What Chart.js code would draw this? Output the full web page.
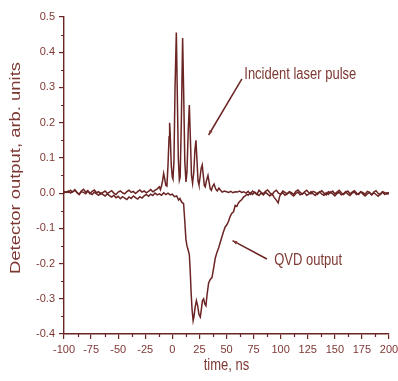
<!DOCTYPE html>
<html>
<head>
<meta charset="utf-8">
<script src="https://cdn.jsdelivr.net/npm/chart.js@4"></script>
<style>
  html, body { margin: 0; padding: 0; background: #fff; }
  #wrap { width: 398px; height: 381px; position: relative; }
</style>
</head>
<body>
<div id="wrap"><canvas id="canvas"></canvas></div>
<script>
const lineColor = '#6b2424';
const textColor = '#7d3833';
const font = 'Liberation Sans, Arial, sans-serif';

// incident laser pulse (time in ns, detector output in arb. units)
const laserTime = [
  -100, -98, -96, -94, -92, -90, -88, -86, -84, -82, -80, -78, -76, -74, -72, -70,
  -68, -66, -64, -62, -60, -58, -56, -54, -52, -50, -48, -46, -44, -42, -40, -38,
  -36, -34, -32, -30, -28, -26, -24, -22, -20, -18, -16, -14, -12, -11, -10, -9,
  -8, -7, -6, -5, -4, -3, -2.5, -2, -1, 0, 0.6, 1.5, 2.5, 3.7, 4.5, 5.5,
  6.5, 7.2, 8.3, 9.5, 10.5, 11.5, 12.6, 13.5, 14.7, 15.7, 16.7, 17.7, 18.7, 19.8, 20.8, 21.8,
  22.8, 23.7, 24.6, 25.6, 26.6, 27.6, 28.6, 29.5, 30.4, 31.5, 32.9, 34, 35, 36, 37, 38.5,
  40, 41.5, 43, 44.5, 46, 48, 50, 52, 54, 56, 58, 60, 62, 64, 66, 68,
  70, 72, 74, 76, 78, 80, 82, 84, 86, 88, 90, 92, 94, 96, 98, 100,
  102, 104, 106, 108, 110, 112, 114, 116, 118, 120, 122, 124, 126, 128, 130, 132,
  134, 136, 138, 140, 142, 144, 146, 148, 150, 152, 154, 156, 158, 160, 162, 164,
  166, 168, 170, 172, 174, 176, 178, 180, 182, 184, 186, 188, 190, 192, 194, 196,
  198, 200
];
const laserValue = [
  0.000, 0.004, 0.002, 0.008, 0.003, 0.010, 0.002, -0.004, 0.006, 0.011, 0.003, 0.007, -0.002, 0.005, 0.009, 0.001,
  0.004, -0.003, 0.002, 0.006, -0.001, 0.003, 0.007, 0.000, -0.004, 0.003, 0.006, 0.001, -0.002, 0.004, 0.008, 0.002,
  0.005, -0.001, 0.004, 0.009, 0.003, 0.006, 0.001, 0.005, 0.010, 0.004, 0.008, 0.012, 0.018, 0.010, 0.020, 0.035,
  0.056, 0.040, 0.022, 0.020, 0.080, 0.160, 0.200, 0.170, 0.080, 0.045, 0.040, 0.090, 0.300, 0.456, 0.300, 0.100,
  0.037, 0.045, 0.200, 0.440, 0.280, 0.090, 0.032, 0.060, 0.180, 0.250, 0.150, 0.050, 0.028, 0.060, 0.120, 0.150,
  0.090, 0.035, 0.023, 0.045, 0.070, 0.080, 0.050, 0.022, 0.018, 0.035, 0.050, 0.030, 0.012, 0.008, 0.018, 0.026,
  0.012, 0.006, 0.014, 0.008, 0.003, 0.006, 0.004, 0.002, 0.005, 0.001, 0.004, 0.003, 0.006, 0.002, 0.004, 0.000,
  0.005, -0.003, 0.006, 0.001, -0.004, 0.008, 0.002, -0.002, 0.005, 0.009, 0.001, -0.005, 0.004, 0.008, 0.000, -0.003,
  0.006, 0.002, -0.002, 0.004, 0.001, -0.004, 0.005, 0.009, 0.002, -0.003, 0.004, 0.008, 0.001, -0.002, 0.005, 0.002,
  -0.004, 0.003, 0.007, 0.000, -0.005, 0.004, 0.001, 0.006, -0.002, 0.003, 0.008, 0.001, -0.004, 0.002, 0.006, -0.002,
  0.003, 0.007, 0.000, -0.004, 0.004, 0.001, -0.003, 0.005, 0.002, -0.005, 0.003, 0.007, -0.001, -0.004, 0.004, 0.001,
  -0.003, 0.002
];

// QVD output
const qvdTime = [
  -100, -98, -96, -94, -92, -90, -88, -86, -84, -82, -80, -78, -76, -74, -72, -70,
  -68, -66, -64, -62, -60, -58, -56, -54, -52, -50, -48, -46, -44, -42, -40, -38,
  -36, -34, -32, -30, -28, -26, -24, -22, -20, -18, -16, -14, -12, -10, -8, -6,
  -4, -2, 0, 2, 4, 5.8, 7, 8.5, 10.4, 11.5, 12.5, 13.5, 14.5, 15.7, 16.5, 17.3,
  18.2, 19.2, 20, 21, 22.2, 23.4, 24.6, 25.8, 26.8, 27.8, 28.9, 30, 31, 32, 33.5, 35,
  36.6, 38, 39.6, 41, 42.7, 44.2, 45.8, 47.2, 48.8, 50.3, 51.9, 53.5, 55, 56.5, 58, 59.5,
  61, 62.7, 64.2, 65.7, 67.3, 68.8, 70, 72, 74, 76, 78, 80, 82, 84, 86, 88,
  90, 92, 94, 96, 97.7, 99, 100, 102, 104, 106, 108, 110, 112, 114, 116, 118,
  120, 122, 124, 126, 128, 130, 132, 134, 136, 138, 140, 142, 144, 146, 148, 150,
  152, 154, 156, 158, 160, 162, 164, 166, 168, 170, 172, 174, 176, 178, 180, 182,
  184, 186, 188, 190, 192, 194, 196, 198, 200
];
const qvdValue = [
  0.005, 0.002, 0.006, 0.000, 0.004, 0.008, 0.001, -0.003, 0.004, 0.002, -0.002, 0.005, 0.000, -0.004, 0.003, -0.002,
  -0.006, 0.001, -0.004, -0.008, -0.002, -0.007, -0.011, -0.006, -0.013, -0.009, -0.016, -0.010, -0.014, -0.018, -0.011, -0.015,
  -0.008, -0.013, -0.017, -0.010, -0.014, -0.008, -0.004, -0.009, -0.003, -0.007, 0.000, -0.005, -0.002, -0.006, 0.001, -0.004,
  0.000, -0.005, -0.003, -0.010, -0.008, -0.020, -0.015, -0.025, -0.030, -0.080, -0.130, -0.150, -0.160, -0.175, -0.220, -0.280,
  -0.330, -0.362, -0.350, -0.325, -0.305, -0.320, -0.345, -0.352, -0.330, -0.305, -0.300, -0.315, -0.320, -0.290, -0.255, -0.245,
  -0.240, -0.215, -0.185, -0.170, -0.156, -0.140, -0.124, -0.110, -0.096, -0.090, -0.080, -0.065, -0.057, -0.053, -0.035, -0.038,
  -0.028, -0.022, -0.018, -0.011, -0.008, -0.003, -0.006, 0.001, -0.004, 0.003, -0.002, -0.007, 0.000, -0.005, 0.002, -0.003,
  -0.008, -0.002, -0.012, -0.020, -0.028, -0.010, -0.004, 0.001, -0.006, -0.002, 0.003, -0.004, -0.008, -0.001, 0.003, -0.005,
  -0.002, 0.002, -0.006, -0.003, 0.004, -0.002, -0.007, 0.000, 0.004, -0.003, -0.006, 0.001, -0.004, 0.003, -0.002, -0.008,
  -0.001, 0.002, -0.005, -0.002, 0.004, -0.003, -0.007, 0.000, 0.003, -0.004, -0.001, 0.004, -0.003, -0.008, -0.002, 0.002,
  -0.005, 0.001, -0.004, -0.009, -0.002, 0.003, -0.004, 0.001, -0.003
];

const xTicks = [-100, 200, 25];
const yTicks = [-0.4, 0.5, 0.1];

// labels with arrows, in data coordinates
const notes = [
  { text: 'Incident laser pulse', at: [66.4, 0.335], from: [64.2, 0.324], to: [33.5, 0.165] },
  { text: 'QVD output', at: [94, -0.193], from: [87.3, -0.187], to: [55.6, -0.135] }
];

function toPoints(xs, ys) {
  return xs.map((x, i) => ({ x: x, y: ys[i] }));
}

// text drawn a little taller than wide, as in the scanned figure
function tallText(c, text, x, y, sy) {
  c.save();
  c.translate(x, y);
  c.scale(1, sy);
  c.fillText(text, 0, 0);
  c.restore();
}

const extras = {
  id: 'extras',
  afterDraw(chart) {
    const c = chart.ctx;
    const xs = chart.scales.x, ys = chart.scales.y;
    const area = chart.chartArea;
    c.save();
    c.strokeStyle = lineColor;
    c.lineWidth = 1.2;
    // minor ticks
    c.beginPath();
    for (let v = xTicks[0] + xTicks[2] / 2; v < xTicks[1]; v += xTicks[2]) {
      const px = Math.round(xs.getPixelForValue(v)) + 0.5;
      c.moveTo(px, area.bottom);
      c.lineTo(px, area.bottom + 3);
    }
    for (let v = yTicks[0] + yTicks[2] / 2; v < yTicks[1]; v += yTicks[2]) {
      const py = Math.round(ys.getPixelForValue(v)) + 0.5;
      c.moveTo(area.left, py);
      c.lineTo(area.left - 3, py);
    }
    c.stroke();

    // notes
    c.fillStyle = textColor;
    c.font = '13px ' + font;
    c.textBaseline = 'middle';
    c.textAlign = 'left';
    notes.forEach(n => {
      tallText(c, n.text, xs.getPixelForValue(n.at[0]), ys.getPixelForValue(n.at[1]), 1.2);
      const x1 = xs.getPixelForValue(n.from[0]), y1 = ys.getPixelForValue(n.from[1]);
      const x2 = xs.getPixelForValue(n.to[0]), y2 = ys.getPixelForValue(n.to[1]);
      c.lineWidth = 1.5;
      c.beginPath();
      c.moveTo(x1, y1);
      c.lineTo(x2, y2);
      c.stroke();
      const a = Math.atan2(y2 - y1, x2 - x1);
      c.beginPath();
      c.moveTo(x2, y2);
      c.lineTo(x2 - 5 * Math.cos(a - 0.35), y2 - 5 * Math.sin(a - 0.35));
      c.lineTo(x2 - 5 * Math.cos(a + 0.35), y2 - 5 * Math.sin(a + 0.35));
      c.closePath();
      c.fill();
    });

    // axis titles
    c.textAlign = 'center';
    c.font = '13px ' + font;
    tallText(c, 'time, ns', (area.left + area.right) / 2, 366, 1.2);
    c.translate(16, 168);
    c.rotate(-Math.PI / 2);
    c.font = '14px ' + font;
    const title = 'Detector output, arb. units';
    c.scale(212 / c.measureText(title).width, 1);
    c.fillText(title, 0, 0);
    c.restore();
  }
};

new Chart(document.getElementById('canvas'), {
  type: 'line',
  data: {
    datasets: [
      { label: 'Incident laser pulse', data: toPoints(laserTime, laserValue) },
      { label: 'QVD output', data: toPoints(qvdTime, qvdValue) }
    ]
  },
  options: {
    responsive: true,
    maintainAspectRatio: false,
    animation: false,
    events: [],
    layout: { padding: { top: 17, right: 9, left: 0, bottom: 0 } },
    elements: {
      point: { radius: 0 },
      line: { borderColor: lineColor, borderWidth: 1.5, tension: 0, fill: false }
    },
    plugins: {
      legend: { display: false },
      tooltip: { enabled: false }
    },
    scales: {
      x: {
        type: 'linear',
        min: xTicks[0],
        max: xTicks[1],
        afterFit: s => { s.height = 47; s.paddingLeft = 0; s.paddingRight = 0; },
        ticks: { stepSize: xTicks[2], color: textColor, font: { family: font, size: 11 }, padding: 4, maxRotation: 0 },
        grid: { drawOnChartArea: false, drawTicks: true, tickLength: 5, color: lineColor, lineWidth: 1.2 },
        border: { display: true, color: lineColor, width: 1.4 }
      },
      y: {
        type: 'linear',
        min: yTicks[0],
        max: yTicks[1],
        afterFit: s => { s.width = 64; s.paddingTop = 0; s.paddingBottom = 0; },
        ticks: {
          stepSize: yTicks[2], color: textColor, font: { family: font, size: 11 }, padding: 4,
          callback: v => v.toFixed(1)
        },
        grid: { drawOnChartArea: false, drawTicks: true, tickLength: 5, color: lineColor, lineWidth: 1.2 },
        border: { display: true, color: lineColor, width: 1.4 }
      }
    }
  },
  plugins: [extras]
});
</script>
</body>
</html>
